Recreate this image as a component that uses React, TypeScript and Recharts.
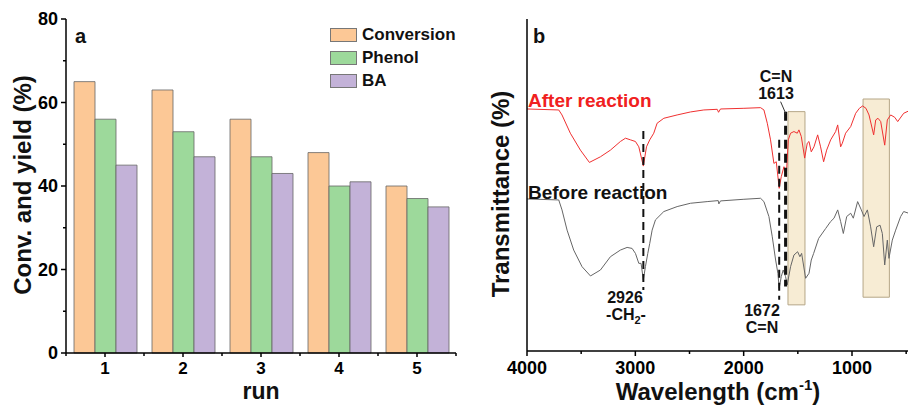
import { BarChart, Bar, XAxis, YAxis, Legend, LineChart, Line, ReferenceLine, ReferenceArea } from 'recharts';

const FONT = '"Liberation Sans", Arial, sans-serif';

// panel a: recycling runs
const runs = ['1', '2', '3', '4', '5'];
const seriesNames = ['Conversion', 'Phenol', 'BA'];
const conversion = [65, 63, 56, 48, 40];
const phenol = [56, 53, 47, 40, 37];
const ba = [45, 47, 43, 41, 35];
const yTicks = [0, 10, 20, 30, 40, 50, 60, 70, 80];

// panel b: FTIR spectra (arbitrary transmittance units)
const afterWn = [4000, 3707, 3677, 3600, 3507, 3424, 3322, 3230, 3138, 3091, 3045, 2999, 2968, 2926, 2897, 2867, 2830, 2799, 2737, 2614, 2491, 2368, 2244, 2232, 2214, 1998, 1844, 1813, 1782, 1752, 1721, 1699, 1672, 1653, 1628, 1607, 1588, 1567, 1536, 1505, 1490, 1468, 1437, 1413, 1397, 1376, 1351, 1317, 1290, 1262, 1234, 1197, 1151, 1132, 1105, 1089, 1059, 1012, 966, 932, 902, 871, 843, 800, 781, 760, 735, 698, 674, 643, 606, 578, 523, 477];
const afterT = [72.9, 72.6, 71.1, 65.6, 60.5, 56.8, 58.5, 60.5, 63.1, 64.1, 63.6, 63.1, 61.5, 55.7, 61.5, 63.6, 65.6, 68.6, 70.1, 71.1, 72.0, 72.6, 72.8, 71.9, 72.9, 73.1, 73.3, 72.6, 68.6, 63.6, 56.5, 57.0, 49.0, 52.5, 55.5, 52.5, 63.6, 65.6, 66.1, 65.6, 66.6, 64.6, 58.1, 62.6, 63.1, 60.0, 61.5, 65.1, 61.5, 57.0, 60.5, 63.6, 66.1, 68.1, 61.5, 62.6, 65.6, 67.6, 71.6, 73.1, 73.8, 73.1, 71.1, 65.1, 69.6, 70.1, 69.1, 62.0, 69.6, 71.1, 70.4, 69.1, 71.6, 72.3];
const beforeWn = [4000, 3707, 3677, 3630, 3569, 3492, 3414, 3322, 3230, 3138, 3076, 3030, 2999, 2968, 2947, 2926, 2907, 2885, 2867, 2845, 2814, 2737, 2614, 2491, 2337, 2235, 2229, 2214, 1998, 1844, 1813, 1767, 1736, 1705, 1684, 1672, 1653, 1635, 1613, 1598, 1567, 1536, 1502, 1481, 1465, 1428, 1397, 1376, 1354, 1308, 1243, 1197, 1166, 1132, 1105, 1080, 1049, 1012, 988, 948, 914, 889, 858, 828, 800, 772, 741, 720, 698, 674, 659, 628, 597, 551, 523, 477];
const beforeT = [45.8, 45.5, 42.5, 36.4, 30.4, 25.4, 22.6, 24.4, 28.4, 30.4, 31.2, 30.9, 29.4, 26.4, 26.4, 21.4, 25.4, 29.4, 32.4, 36.4, 39.5, 42.0, 43.5, 44.5, 45.0, 45.3, 44.3, 45.2, 45.7, 46.0, 45.0, 40.5, 34.4, 27.4, 23.4, 18.9, 22.4, 24.4, 22.4, 19.9, 25.4, 28.9, 29.9, 28.4, 29.4, 21.9, 23.4, 27.4, 29.4, 33.9, 36.9, 39.0, 40.0, 42.5, 39.0, 35.4, 40.5, 41.5, 40.0, 45.0, 42.5, 40.5, 42.5, 37.4, 31.4, 37.4, 37.9, 35.4, 25.9, 33.4, 27.9, 33.4, 36.4, 40.5, 42.0, 41.5];
const wnTicks = [4000, 3500, 3000, 2500, 2000, 1500, 1000, 500];

const barData = runs.map((run, i) => ({ run, Conversion: conversion[i], Phenol: phenol[i], BA: ba[i] }));
const afterData = afterWn.map((wn, i) => ({ wn, t: afterT[i] }));
const beforeData = beforeWn.map((wn, i) => ({ wn, t: beforeT[i] }));

const BAND = 78;
const AX = { stroke: '#000', strokeWidth: 1.5 };

const ValueTick = ({ x, y, payload }: any) => {
  const major = payload.value % 20 === 0;
  return (
    <g>
      <line x1={x} x2={x - (major ? 5 : 3)} y1={y} y2={y} stroke="#000" strokeWidth={1.5} />
      {major && (
        <text x={x - 8} y={y} dy="0.36em" textAnchor="end" fontFamily={FONT} fontWeight="bold" fontSize={18} fill="#000">
          {payload.value}
        </text>
      )}
    </g>
  );
};

const RunTick = ({ x, y, payload, index }: any) => (
  <g>
    <line x1={x} x2={x} y1={y} y2={y + 4} stroke="#000" strokeWidth={1.5} />
    <line x1={x - BAND / 2} x2={x - BAND / 2} y1={y} y2={y + 3} stroke="#000" strokeWidth={1.5} />
    {index === runs.length - 1 && <line x1={x + BAND / 2} x2={x + BAND / 2} y1={y} y2={y + 3} stroke="#000" strokeWidth={1.5} />}
    <text x={x} y={y + 21} textAnchor="middle" fontFamily={FONT} fontWeight="bold" fontSize={17} fill="#000">
      {payload.value}
    </text>
  </g>
);

const WnTick = ({ x, y, payload }: any) => {
  const major = payload.value % 1000 === 0;
  return (
    <g>
      <line x1={x} x2={x} y1={y} y2={y + (major ? 5 : 3)} stroke="#000" strokeWidth={1.5} />
      {major && (
        <text x={x} y={y + 23} textAnchor="middle" fontFamily={FONT} fontWeight="bold" fontSize={18} fill="#000">
          {payload.value}
        </text>
      )}
    </g>
  );
};

const renderLegend = (props: any) => {
  const items = [...(props.payload || [])].sort(
    (a: any, b: any) => seriesNames.indexOf(a.value) - seriesNames.indexOf(b.value)
  );
  return (
    <div>
      {items.map((entry: any) => (
        <div key={entry.value} style={{ display: 'flex', alignItems: 'center', height: 23 }}>
          <span style={{ width: 25, height: 12, background: entry.color, border: '1px solid #777', display: 'inline-block' }} />
          <span style={{ marginLeft: 5, fontFamily: FONT, fontWeight: 'bold', fontSize: 17, color: '#111' }}>{entry.value}</span>
        </div>
      ))}
    </div>
  );
};

const txt = { fontFamily: FONT, fontWeight: 'bold' as const, fill: '#111' };

export default function App() {
  return (
    <div style={{ position: 'fixed', left: 0, top: 0, width: 908, height: 406, overflow: 'hidden', background: '#fff' }}>
      <div style={{ position: 'absolute', left: 0, top: 0 }}>
        <BarChart width={470} height={406} data={barData} margin={{ top: 19, right: 14, bottom: 0, left: 0 }} barCategoryGap={8} barGap={0}>
          <XAxis dataKey="run" height={53} axisLine={AX} tickLine={false} tickSize={0} tickMargin={0} tick={<RunTick />} interval={0} />
          <XAxis xAxisId="top" dataKey="run" orientation="top" height={0} axisLine={AX} tick={false} tickLine={false} />
          <YAxis domain={[0, 80]} ticks={yTicks} width={66} axisLine={AX} tickLine={false} tickSize={0} tickMargin={0} tick={<ValueTick />} interval={0} />
          <YAxis yAxisId="right" orientation="right" domain={[0, 80]} width={0} axisLine={AX} tick={false} tickLine={false} />
          <Legend layout="horizontal" verticalAlign="middle" align="center" wrapperStyle={{ left: 330, top: 23, width: 140 }} content={renderLegend} />
          <Bar dataKey="Conversion" name="Conversion" fill="#FCC896" stroke="#666" strokeWidth={0.8} isAnimationActive={false} />
          <Bar dataKey="Phenol" name="Phenol" fill="#9DD99B" stroke="#666" strokeWidth={0.8} isAnimationActive={false} />
          <Bar dataKey="BA" name="BA" fill="#C3B2D8" stroke="#666" strokeWidth={0.8} isAnimationActive={false} />
        </BarChart>
      </div>
      <div style={{ position: 'absolute', left: 478, top: 0 }}>
        <LineChart width={439} height={406} margin={{ top: 19, right: 0, bottom: 0, left: 0 }}>
          <XAxis dataKey="wn" type="number" domain={[400, 4000]} reversed allowDataOverflow ticks={wnTicks} interval={0} height={55} axisLine={AX} tickLine={false} tickSize={0} tickMargin={0} tick={<WnTick />} />
          <XAxis xAxisId="top" dataKey="wn" type="number" domain={[400, 4000]} reversed orientation="top" height={0} axisLine={AX} tick={false} tickLine={false} />
          <YAxis type="number" domain={[0, 100]} width={49} axisLine={AX} tick={false} tickLine={false} />
          <Line data={beforeData} dataKey="t" stroke="#666" strokeWidth={1} dot={false} isAnimationActive={false} />
          <Line data={afterData} dataKey="t" stroke="#F03030" strokeWidth={1} dot={false} isAnimationActive={false} />
          <ReferenceArea x1={1591} x2={1434} y1={13.9} y2={72.1} fill="#F2DFB8" fillOpacity={0.6} stroke="#B5A687" strokeWidth={1} />
          <ReferenceArea x1={898} x2={655} y1={16.2} y2={75.9} fill="#F2DFB8" fillOpacity={0.6} stroke="#B5A687" strokeWidth={1} />
          <ReferenceLine segment={[{ x: 2926, y: 66.3 }, { x: 2926, y: 18.4 }]} stroke="#111" strokeWidth={2} strokeDasharray="8 5" />
          <ReferenceLine segment={[{ x: 1672, y: 63.6 }, { x: 1672, y: 15.4 }]} stroke="#111" strokeWidth={2} strokeDasharray="8 5" />
          <ReferenceLine segment={[{ x: 1613, y: 72.1 }, { x: 1613, y: 19.4 }]} stroke="#111" strokeWidth={3} strokeDasharray="9 5" />
          <ReferenceLine segment={[{ x: 1659, y: 75.1 }, { x: 1610, y: 71.4 }]} stroke="#333" strokeWidth={1} />
        </LineChart>
      </div>
      <svg width={908} height={406} style={{ position: 'absolute', left: 0, top: 0, pointerEvents: 'none' }}>
        <text x={75} y={43} fontSize={20} {...txt}>a</text>
        <text x={533} y={43} fontSize={20} {...txt}>b</text>
        <text x={31} y={185} fontSize={24} textAnchor="middle" transform="rotate(-90 31 185)" {...txt}>Conv. and yield (%)</text>
        <text x={261} y={399} fontSize={23} textAnchor="middle" {...txt}>run</text>
        <text x={509} y={194} fontSize={24} textAnchor="middle" transform="rotate(-90 509 194)" {...txt}>Transmittance (%)</text>
        <text x={718} y={400} fontSize={24} textAnchor="middle" {...txt}>
          Wavelength (cm<tspan dy={-10} fontSize={15}>-1</tspan><tspan dy={10}>)</tspan>
        </text>
        <text x={528} y={107} fontSize={19} fontFamily={FONT} fontWeight="bold" fill="#F02020">After reaction</text>
        <text x={528} y={199} fontSize={19} {...txt}>Before reaction</text>
        <text x={625} y={303} fontSize={16} textAnchor="middle" {...txt}>2926</text>
        <text x={626} y={320} fontSize={16} textAnchor="middle" {...txt}>
          -CH<tspan dy={4} fontSize={11}>2</tspan><tspan dy={-4}>-</tspan>
        </text>
        <text x={762} y={316} fontSize={16} textAnchor="middle" {...txt}>1672</text>
        <text x={762} y={333} fontSize={16} textAnchor="middle" {...txt}>C=N</text>
        <text x={776} y={82} fontSize={16} textAnchor="middle" {...txt}>C=N</text>
        <text x={776} y={99} fontSize={16} textAnchor="middle" {...txt}>1613</text>
      </svg>
    </div>
  );
}
